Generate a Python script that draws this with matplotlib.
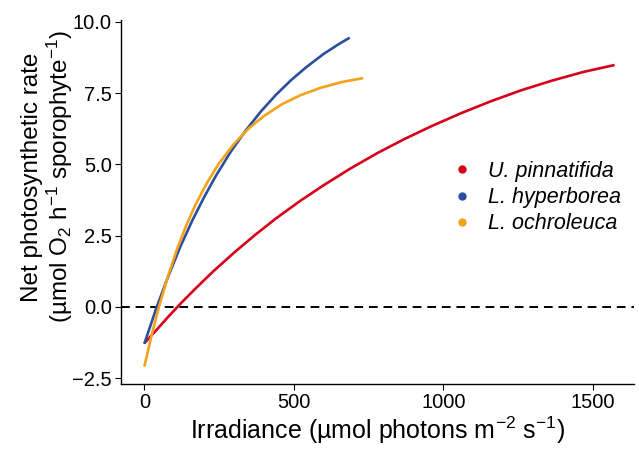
import matplotlib
matplotlib.use('Agg')
import matplotlib.pyplot as plt

plt.rcParams['font.family'] = ['Liberation Sans', 'DejaVu Sans']
plt.rcParams['mathtext.fontset'] = 'custom'
plt.rcParams['mathtext.rm'] = 'Liberation Sans'
plt.rcParams['mathtext.it'] = 'Liberation Sans:italic'

# values (irradiance, net rate)
up_x = [0, 40, 80, 120, 170, 230, 300, 370, 440, 520, 600, 690, 780, 870, 960,
        1060, 1160, 1260, 1360, 1470, 1573]
up_y = [-1.28, -0.82, -0.35, 0.10, 0.63, 1.24, 1.90, 2.52, 3.10, 3.71, 4.27, 4.86,
        5.40, 5.89, 6.34, 6.80, 7.22, 7.60, 7.93, 8.25, 8.49]

lh_x = [0, 40, 80, 120, 160, 200, 240, 290, 340, 390, 440, 490, 540, 600, 650, 687]
lh_y = [-1.3, -0.05, 1.07, 2.10, 3.02, 3.85, 4.61, 5.46, 6.20, 6.86, 7.44, 7.95,
        8.40, 8.88, 9.22, 9.45]

lo_x = [0, 25, 50, 80, 110, 140, 170, 210, 250, 300, 350, 400, 460, 520, 590, 660, 732]
lo_y = [-2.1, -0.97, 0.04, 1.10, 2.04, 2.85, 3.56, 4.36, 5.04, 5.72, 6.27, 6.70,
        7.11, 7.42, 7.69, 7.89, 8.03]

species = ['U. pinnatifida', 'L. hyperborea', 'L. ochroleuca']
colours = ['#d7001a', '#2b4e9e', '#f5a21b']

fig = plt.figure(figsize=(6.39, 4.49), dpi=100)
ax = fig.add_axes([121/639, 1 - 384.3/449, (634 - 121)/639, (384.3 - 20)/449])

ax.axhline(0, color='black', lw=1.4, ls=(0, (4.5, 3)), zorder=1)

series = [(up_x, up_y), (lh_x, lh_y), (lo_x, lo_y)]
for (xs, ys), c in zip(series, colours):
    ax.plot(xs, ys, color=c, lw=1.9, zorder=2, solid_capstyle='butt')

ax.set_xlim(-78, 1638)
ax.set_ylim(-2.72, 10.07)
ax.set_xticks([0, 500, 1000, 1500])
ax.set_yticks([-2.5, 0, 2.5, 5, 7.5, 10])
ax.set_yticklabels(['\u22122.5', '0.0', '2.5', '5.0', '7.5', '10.0'])

for s in ['top', 'right']:
    ax.spines[s].set_visible(False)
for s in ['left', 'bottom']:
    ax.spines[s].set_linewidth(1.0)
ax.tick_params(length=4, width=0.8, labelsize=14.5, colors='black', pad=2.5)

fig.text(377.5/639, (449 - 439)/449,
         'Irradiance (µmol photons m$^{\u22122}$ s$^{\u22121}$)',
         ha='center', va='baseline', fontsize=18)
# nudged a touch left/down so the top end clears the 10.0 tick label
fig.text(48/639, 1 - 177/449,
         'Net photosynthetic rate\n(µmol O$_2$ h$^{\u22121}$ sporophyte$^{\u22121}$)',
         rotation=90, ha='center', va='center', fontsize=17.5, linespacing=1.1)

handles = [plt.Line2D([], [], ls='none', marker='o', ms=5, color=c) for c in colours]
leg = ax.legend(handles, species, loc='upper left', bbox_to_anchor=(451/639, 1 - 161/449),
                bbox_transform=fig.transFigure, frameon=False, fontsize=15.5,
                handletextpad=0.72, labelspacing=0.24, handlelength=1.0,
                borderaxespad=0, borderpad=0)
for t in leg.get_texts():
    t.set_fontstyle('italic')

fig.savefig('out.png', dpi=100)
